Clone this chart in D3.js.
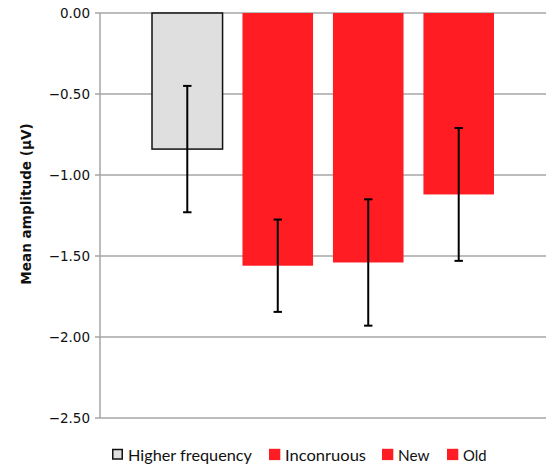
<!DOCTYPE html>
<html><head><meta charset="utf-8">
<script src="https://cdn.jsdelivr.net/npm/d3@7"></script>
<style>body{margin:0;background:#fff}</style>
</head><body>
<svg id="c" width="549" height="467"></svg>
<script>
const categories = ["Higher frequency", "Inconruous", "New", "Old"];
const means = [-0.84, -1.56, -1.54, -1.12];
const errors = [0.39, 0.285, 0.39, 0.41];
const yTicks = [0, -0.5, -1.0, -1.5, -2.0, -2.5];
const fills = ["#dfdfdf", "#ff1c23", "#ff1c23", "#ff1c23"];
const strokes = ["#111", "none", "none", "none"];

const svg = d3.select("#c");
const mL = 100, mR = 546, mT = 13, mB = 418;
const y = d3.scaleLinear().domain([0, -2.5]).range([mT, mB]);
const x = d3.scaleBand().domain(categories).range([152, 494]).paddingInner(0.22).paddingOuter(0);

// gridlines
svg.append("g").selectAll("line").data(yTicks).join("line")
  .attr("x1", mL - 5).attr("x2", mR)
  .attr("y1", d => y(d)).attr("y2", d => y(d))
  .attr("stroke", "#a6a6a6").attr("stroke-width", 1.5);

// axis line
svg.append("line").attr("x1", mL).attr("x2", mL).attr("y1", mT).attr("y2", mB)
  .attr("stroke", "#a6a6a6").attr("stroke-width", 1.5);

// tick labels
svg.append("g").selectAll("text").data(yTicks).join("text")
  .attr("x", 90).attr("y", d => y(d)).attr("dy", "0.35em")
  .attr("text-anchor", "end").attr("font-family", "DejaVu Sans, Verdana, sans-serif")
  .attr("font-size", 13.5).attr("fill", "#111")
  .text(d => d3.format(".2f")(d).replace("-", "\u2212"));

// bars
svg.append("g").selectAll("rect").data(categories).join("rect")
  .attr("x", d => x(d)).attr("width", x.bandwidth())
  .attr("y", (d, i) => y(0))
  .attr("height", (d, i) => y(means[i]) - y(0))
  .attr("fill", (d, i) => fills[i])
  .attr("stroke", (d, i) => strokes[i]).attr("stroke-width", 1.5);

// error bars
const eg = svg.append("g").attr("stroke", "#000").attr("stroke-width", 2);
categories.forEach((c, i) => {
  const cx = x(c) + x.bandwidth() / 2;
  const y1 = y(means[i] + errors[i]), y2 = y(means[i] - errors[i]);
  eg.append("line").attr("x1", cx).attr("x2", cx).attr("y1", y1).attr("y2", y2);
  eg.append("line").attr("x1", cx - 4.2).attr("x2", cx + 4.2).attr("y1", y1).attr("y2", y1);
  eg.append("line").attr("x1", cx - 4.2).attr("x2", cx + 4.2).attr("y1", y2).attr("y2", y2);
});

// y label
svg.append("text").attr("transform", "translate(31,204) rotate(-90)")
  .attr("text-anchor", "middle").attr("font-family", "DejaVu Sans, Verdana, sans-serif")
  .attr("font-weight", "bold").attr("font-size", 13.6).attr("fill", "#111")
  .text("Mean amplitude (\u00b5V)");

// legend
const legX = [112, 269, 382, 447];
const legW = [124, 81, 31.5, 23.5];
const lg = svg.append("g");
categories.forEach((c, i) => {
  if (strokes[i] === "none") {
    lg.append("rect").attr("x", legX[i]).attr("y", 448.8).attr("width", 11.3).attr("height", 11.3)
      .attr("fill", fills[i]);
  } else {
    lg.append("rect").attr("x", legX[i] + 0.75).attr("y", 449.5).attr("width", 9.5).attr("height", 9.5)
      .attr("fill", fills[i]).attr("stroke", "#111").attr("stroke-width", 1.5);
  }
  lg.append("text").attr("x", legX[i] + 16).attr("y", 461)
    .attr("font-family", "Lato, 'Open Sans', sans-serif").attr("font-size", 15).attr("fill", "#111")
    .attr("textLength", legW[i]).attr("lengthAdjust", "spacingAndGlyphs")
    .text(c);
});
</script>
</body></html>
